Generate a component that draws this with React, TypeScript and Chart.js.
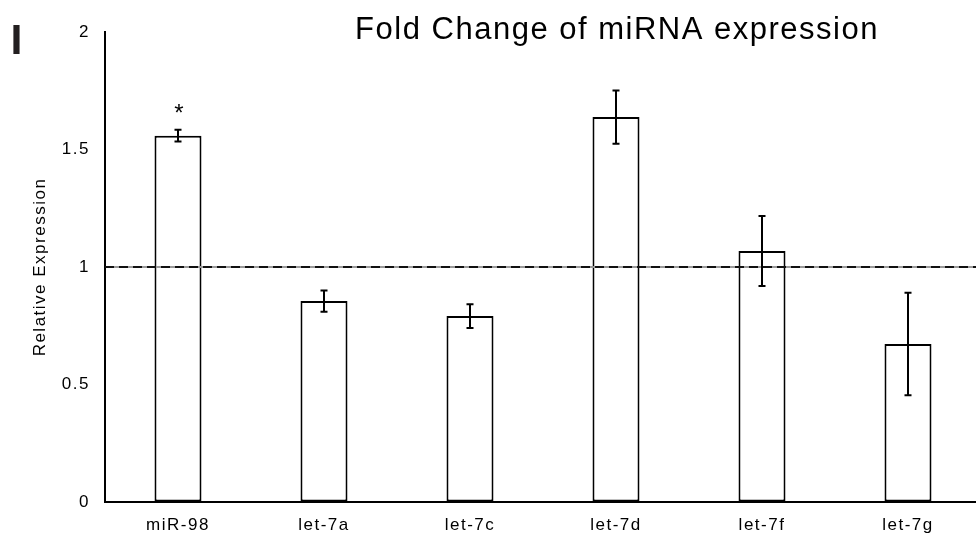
import React, { useEffect, useRef } from 'react';
import { Chart, registerables } from 'chart.js';

Chart.register(...registerables);

const categories = ['miR-98', 'let-7a', 'let-7c', 'let-7d', 'let-7f', 'let-7g'];
const values = [1.559, 0.855, 0.791, 1.638, 1.068, 0.672];
const errors = [0.025, 0.045, 0.051, 0.113, 0.149, 0.218];
const significance = ['*', '', '', '', '', ''];
const yMin = 0;
const yMax = 2;
const yStep = 0.5;
const referenceLevel = 1;
const chartTitle = 'Fold Change of miRNA expression';
const yAxisTitle = 'Relative Expression';
const panelLabel = 'I';

const FAMILY = "'Liberation Sans', Arial, sans-serif";
const SPACING = '1.5px';

const spacingPlugin = {
  id: 'letterSpacing',
  beforeUpdate(chart: any) {
    chart.ctx.letterSpacing = SPACING;
  },
  beforeDraw(chart: any) {
    chart.ctx.letterSpacing = SPACING;
  },
};

const overlayPlugin = {
  id: 'overlay',
  afterDatasetsDraw(chart: any) {
    const { ctx, chartArea, scales } = chart;
    const x = scales.x;
    const y = scales.y;
    ctx.save();
    const yRef = y.getPixelForValue(referenceLevel);
    ctx.lineWidth = 2;
    ctx.strokeStyle = '#9a9a9a';
    ctx.beginPath();
    ctx.moveTo(chartArea.left, yRef);
    ctx.lineTo(chartArea.right, yRef);
    ctx.stroke();
    ctx.strokeStyle = '#111';
    ctx.setLineDash([9, 5]);
    ctx.beginPath();
    ctx.moveTo(chartArea.left, yRef);
    ctx.lineTo(chartArea.right, yRef);
    ctx.stroke();
    ctx.setLineDash([]);
    ctx.strokeStyle = '#000';
    ctx.lineWidth = 2;
    const cap = 3.5;
    values.forEach((v, i) => {
      const px = x.getPixelForValue(i);
      const top = y.getPixelForValue(v + errors[i]);
      const bot = y.getPixelForValue(v - errors[i]);
      ctx.beginPath();
      ctx.moveTo(px, top);
      ctx.lineTo(px, bot);
      ctx.moveTo(px - cap, top);
      ctx.lineTo(px + cap, top);
      ctx.moveTo(px - cap, bot);
      ctx.lineTo(px + cap, bot);
      ctx.stroke();
      if (significance[i]) {
        ctx.fillStyle = '#000';
        ctx.font = `24px ${FAMILY}`;
        ctx.textAlign = 'center';
        ctx.textBaseline = 'alphabetic';
        ctx.letterSpacing = '0px';
        ctx.fillText(significance[i], px + 1, top - 9);
      }
    });
    ctx.restore();
  },
  afterDraw(chart: any) {
    const { ctx } = chart;
    ctx.save();
    ctx.letterSpacing = SPACING;
    ctx.fillStyle = '#000';
    ctx.font = `31px ${FAMILY}`;
    ctx.textAlign = 'center';
    ctx.textBaseline = 'alphabetic';
    ctx.fillText(chartTitle, 617, 39);
    ctx.letterSpacing = '0px';
    ctx.fillStyle = '#231f20';
    ctx.font = `bold 43px ${FAMILY}`;
    ctx.fillText(panelLabel, 16.5, 54.3);
    ctx.restore();
  },
};

export default function App() {
  const ref = useRef<HTMLCanvasElement | null>(null);

  useEffect(() => {
    if (!ref.current) return;
    const chart = new Chart(ref.current, {
      type: 'bar',
      data: {
        labels: categories,
        datasets: [
          {
            data: values,
            backgroundColor: '#ffffff',
            borderColor: '#000000',
            borderWidth: 2,
            borderSkipped: false,
            categoryPercentage: 1,
            barPercentage: 0.322,
          },
        ],
      },
      options: {
        responsive: false,
        animation: false,
        devicePixelRatio: 1,
        layout: { padding: { top: 32, left: 0, right: 9, bottom: 0 } },
        plugins: {
          legend: { display: false },
          tooltip: { enabled: false },
          title: { display: false },
        },
        scales: {
          x: {
            type: 'category',
            offset: true,
            grid: { display: true, drawOnChartArea: false, drawTicks: false },
            border: { display: true, color: '#000', width: 2 },
            ticks: {
              color: '#000',
              padding: 13,
              font: { family: FAMILY, size: 17 },
              maxRotation: 0,
              autoSkip: false,
            },
            afterFit: (s: any) => {
              s.height = 36;
            },
          },
          y: {
            min: yMin,
            max: yMax,
            grid: { display: true, drawOnChartArea: false, drawTicks: false },
            border: { display: true, color: '#000', width: 2 },
            ticks: {
              stepSize: yStep,
              color: '#000',
              padding: 15,
              font: { family: FAMILY, size: 17 },
              callback: (v: any) => String(Number(v)),
            },
            title: {
              display: true,
              text: yAxisTitle,
              color: '#000',
              font: { family: FAMILY, size: 17 },
              padding: { top: 30, bottom: 0 },
            },
            afterFit: (s: any) => {
              s.width = 105;
            },
          },
        },
      },
      plugins: [spacingPlugin, overlayPlugin],
    });
    return () => chart.destroy();
  }, []);

  return (
    <div style={{ position: 'fixed', left: 0, top: 0, width: 990, height: 538, background: '#fff' }}>
      <canvas ref={ref} width={990} height={538} style={{ width: 990, height: 538, display: 'block' }} />
    </div>
  );
}
